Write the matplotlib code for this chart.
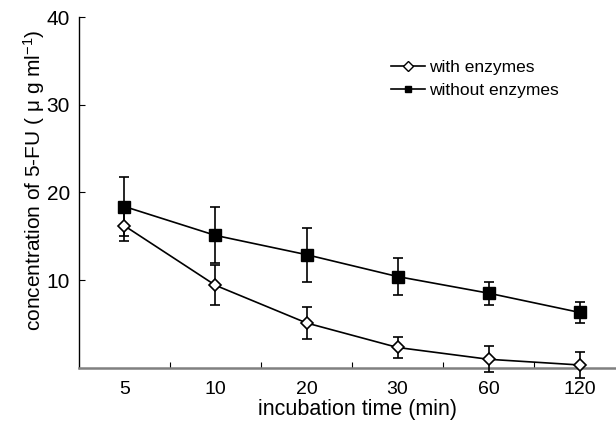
import matplotlib
matplotlib.use("Agg")
import matplotlib.pyplot as plt
from matplotlib.lines import Line2D
import numpy as np

# data
times = ["5", "10", "20", "30", "60", "120"]
with_enz = [16.2, 9.4, 5.1, 2.3, 0.95, 0.3]
with_err = [1.7, 2.3, 1.8, 1.2, 1.5, 1.5]
without_enz = [18.4, 15.1, 12.9, 10.4, 8.5, 6.3]
without_err = [3.4, 3.2, 3.1, 2.1, 1.3, 1.2]

plt.rcParams['font.family'] = ['Liberation Sans', 'DejaVu Sans']
plt.rcParams['mathtext.fontset'] = 'custom'
plt.rcParams['mathtext.rm'] = 'Liberation Sans'
plt.rcParams['mathtext.it'] = 'Liberation Sans'

fig = plt.figure(figsize=(6.16, 4.24), dpi=100)
ax = fig.add_axes([0.128, 0.133, 0.87, 0.826])

x = np.arange(len(times))

ax.errorbar(x, with_enz, yerr=with_err, color='black', lw=1.2,
            marker='D', markersize=6, markerfacecolor='white',
            markeredgecolor='black', markeredgewidth=1.2,
            capsize=3.6, capthick=1.2, elinewidth=1.2,
            clip_on=False, zorder=3)
ax.errorbar(x, without_enz, yerr=without_err, color='black', lw=1.2,
            marker='s', markersize=8, markerfacecolor='black',
            markeredgecolor='black',
            capsize=3.6, capthick=1.2, elinewidth=1.2,
            clip_on=False, zorder=3)

ax.set_xlim(-0.5, 5.385)
ax.set_ylim(0, 40)
ax.set_yticks([10, 20, 30, 40])
ax.set_xticks(x)
ax.set_xticklabels(times)
ax.set_xticks(np.arange(0.5, 5, 1), minor=True)
ax.tick_params(axis='x', which='major', length=0, labelsize=14, pad=10)
ax.tick_params(axis='x', which='minor', direction='in', length=4, width=0.8)
ax.tick_params(axis='y', direction='in', length=4, width=0.8, labelsize=15, pad=6.5)

ax.spines['top'].set_visible(False)
ax.spines['right'].set_visible(False)
ax.spines['bottom'].set_color('#808080')
ax.spines['bottom'].set_linewidth(1.8)
ax.spines['left'].set_linewidth(1.0)

ax.set_xlabel('incubation time (min)', fontsize=15.5)
ax.xaxis.set_label_coords(0.52, -0.09)
ax.set_ylabel('concentration of 5-FU ( \u03bc g ml$^{-1}$)', fontsize=15)
ax.yaxis.set_label_coords(-0.06, 0.536)

handles = [
    Line2D([], [], color='black', lw=1.2, marker='D', markersize=5,
           markerfacecolor='white', markeredgecolor='black'),
    Line2D([], [], color='black', lw=1.2, marker='s', markersize=5,
           markerfacecolor='black'),
]
ax.legend(handles, ['with enzymes', 'without enzymes'], loc='center left',
          bbox_to_anchor=(0.566, 0.825), frameon=False, fontsize=12.5,
          handlelength=1.95, handletextpad=0.25, labelspacing=0.45, borderpad=0)

fig.savefig('out.png', dpi=100)
